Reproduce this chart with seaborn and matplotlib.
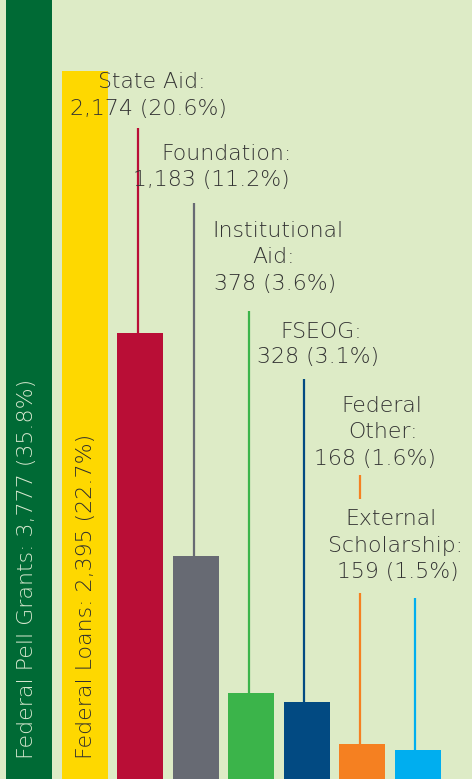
import matplotlib
matplotlib.use("Agg")
import matplotlib.pyplot as plt
import seaborn as sns
import pandas as pd

# ---- data ----
categories = ["Federal Pell Grants", "Federal Loans", "State Aid", "Foundation",
              "Institutional Aid", "FSEOG", "Federal Other", "External Scholarship"]
label_names = ["Federal Pell Grants", "Federal Loans", "State Aid", "Foundation",
               "Institutional\nAid", "FSEOG", "Federal\nOther", "External\nScholarship"]
counts = [3777, 2395, 2174, 1183, 378, 328, 168, 159]
percents = [35.8, 22.7, 20.6, 11.2, 3.6, 3.1, 1.6, 1.5]
# displayed bar heights (infographic, not to scale)
bar_heights = [800, 708, 446, 223, 86, 77, 35, 29]
colors = ["#006a35", "#fed800", "#b90e36", "#676a73",
          "#3bb44a", "#024a82", "#f58021", "#00aeef"]
BG = "#ddebc6"
TXT = "#333333"

W, H = 472, 779
sns.set_theme(style="white")
plt.rcParams["font.family"] = ["DejaVu Sans"]

fig = plt.figure(figsize=(W / 100, H / 100), dpi=100, facecolor=BG)
ax = fig.add_axes([0, 0, 1, 1])
ax.set_facecolor(BG)

df = pd.DataFrame({"cat": categories, "h": bar_heights})
sns.barplot(data=df, x="cat", y="h", hue="cat", palette=colors, legend=False,
            width=0.83, saturation=1, linewidth=0, edgecolor="none", ax=ax)
ax.set_xlim(-0.530, 7.982)
ax.set_ylim(0, H)
ax.axis("off")

# leader lines (top y in px from top)
leader_tops = {2: [(128, None)], 3: [(203, None)], 4: [(311, None)], 5: [(379, None)],
               6: [(475, 499), (593, None)], 7: [(598, None)]}
for i, segs in leader_tops.items():
    for top, bot in segs:
        y0 = bar_heights[i] if bot is None else H - bot
        ax.vlines(i - 0.04, y0, H - top, color=colors[i], lw=1.6, zorder=1)

# label lines: per-line (center x px, baseline y px)
line_pos = {
    2: [(152, 88), (148, 115)],
    3: [(227, 160), (211, 186)],
    4: [(278, 237), (274, 263), (275, 290)],
    5: [(321, 338), (318, 363)],
    6: [(382, 412), (383, 438), (375, 465)],
    7: [(391, 525), (395, 552), (398, 578)],
}
fs = 15.8
for i, pos in line_pos.items():
    lines = (label_names[i] + ":").split("\n") + [f"{counts[i]:,} ({percents[i]}%)"]
    for (x, y), s in zip(pos, lines):
        ax.text(x / W, 1 - y / H, s, transform=ax.transAxes, ha="center",
                va="baseline", fontsize=fs, color=TXT, fontweight="light", zorder=3)

# rotated labels inside first two bars
rot = [(0, 33, "#d7e8cf"), (1, 92, "#2e2e2e")]
for i, x, c in rot:
    ax.text(x / W, 1 - 759 / H, f"{label_names[i]}: {counts[i]:,} ({percents[i]}%)",
            transform=ax.transAxes, rotation=90, rotation_mode="anchor",
            ha="left", va="baseline", fontsize=15.9, color=c, fontweight="light",
            zorder=3)

fig.savefig("out.png", dpi=100, facecolor=BG)
